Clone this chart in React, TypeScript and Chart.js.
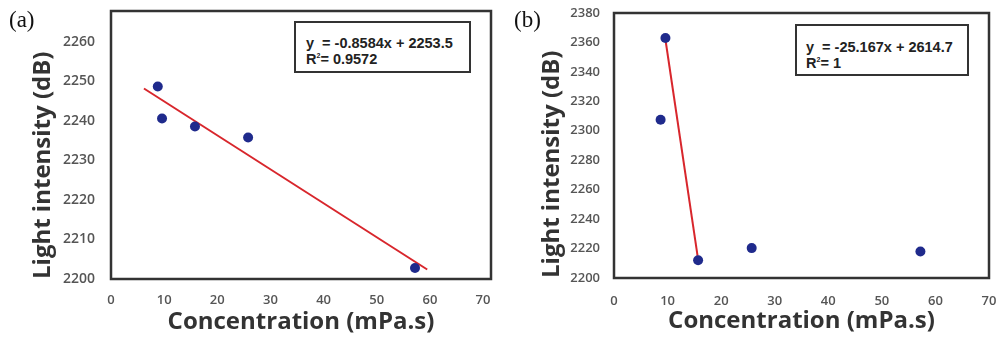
import React, { useEffect, useRef } from "react";
import { Chart, registerables } from "chart.js";
Chart.register(...registerables);

// ---- data ----
const xTicks = [0, 10, 20, 30, 40, 50, 60, 70];

const concA = [8.8, 9.6, 15.8, 25.8, 57.2];
const intensityA = [2248.7, 2240.6, 2238.6, 2235.8, 2202.8];
const trendXA = [6.2, 59.5];
const trendYA = [2248.2, 2202.4];
const yTicksA = [2200, 2210, 2220, 2230, 2240, 2250, 2260];

const concB = [9.6, 8.7, 15.7, 25.7, 57.2];
const intensityB = [2363, 2307.5, 2212, 2220.3, 2218];
const trendXB = [9.6, 15.6];
const trendYB = [2362, 2215];
const yTicksB = [2200, 2220, 2240, 2260, 2280, 2300, 2320, 2340, 2360, 2380];

const POINT = "#1f2a8c";
const RED = "#d8262c";
const TICK = "#555555";
const TITLE = "#333333";

const frame = {
  id: "frame",
  beforeDatasetsDraw(chart: any) {
    const { ctx, chartArea: a } = chart;
    ctx.save();
    ctx.strokeStyle = "#333";
    ctx.lineWidth = 2.5;
    ctx.strokeRect(a.left, a.top, a.right - a.left, a.bottom - a.top);
    ctx.restore();
  },
};

function Panel(props: any) {
  const c = props.cfg;
  const ref = useRef<HTMLCanvasElement>(null);
  useEffect(() => {
    const chart = new Chart(ref.current as HTMLCanvasElement, {
      type: "scatter",
      data: {
        datasets: [
          {
            data: c.px.map((x: number, i: number) => ({ x, y: c.py[i] })),
            backgroundColor: POINT,
            borderColor: POINT,
            borderWidth: 0,
            pointRadius: 5,
            pointHoverRadius: 5,
            showLine: false,
          },
          {
            data: c.tx.map((x: number, i: number) => ({ x, y: c.ty[i] })),
            showLine: true,
            borderColor: RED,
            borderWidth: 2,
            pointRadius: 0,
            fill: false,
          },
        ],
      } as any,
      options: {
        responsive: false,
        animation: false,
        events: [],
        layout: { padding: { left: 0, top: c.padTop, right: c.padRight, bottom: 0 } },
        plugins: { legend: { display: false }, tooltip: { enabled: false } },
        scales: {
          x: {
            type: "linear",
            min: 0,
            max: c.xMax,
            grid: { display: false, drawTicks: false },
            border: { display: false },
            afterBuildTicks: (s: any) => {
              s.ticks = xTicks.map((v) => ({ value: v }));
            },
            afterFit: (s: any) => {
              s.height = c.xAxisH;
              s.paddingLeft = 0;
              s.paddingRight = 0;
            },
            ticks: {
              autoSkip: false,
              maxRotation: 0,
              padding: c.xTickPad,
              color: TICK,
              callback: (v: any) => String(v),
              font: { family: "Open Sans", size: 13, weight: "600" },
            },
            title: {
              display: true,
              text: "Concentration (mPa.s)",
              color: TITLE,
              font: { family: "Open Sans", size: 24, weight: "bold" },
              padding: { top: 0, bottom: c.xTitlePad },
            },
          },
          y: {
            type: "linear",
            min: c.yMin,
            max: c.yMax,
            grid: { display: false, drawTicks: false },
            border: { display: false },
            afterBuildTicks: (s: any) => {
              s.ticks = c.yTicks.map((v: number) => ({ value: v }));
            },
            afterFit: (s: any) => {
              s.width = c.yAxisW;
              s.paddingTop = 0;
              s.paddingBottom = 0;
            },
            ticks: {
              autoSkip: false,
              padding: c.yTickPad,
              color: TICK,
              callback: (v: any) => String(v),
              font: { family: "Open Sans", size: c.yTickSize, weight: "600" },
            },
            title: {
              display: true,
              text: "Light intensity (dB)",
              align: "start",
              color: TITLE,
              font: { family: "Open Sans", size: 24, weight: "bold" },
              padding: { top: c.yTitlePad, bottom: 0 },
            },
          },
        },
      } as any,
      plugins: [frame],
    });
    return () => chart.destroy();
  }, []);
  return (
    <canvas
      ref={ref}
      width={c.w}
      height={337}
      style={{ position: "absolute", left: c.left, top: 0, width: c.w, height: 337 }}
    />
  );
}

const cfgA = {
  left: 0, w: 500, px: concA, py: intensityA, tx: trendXA, ty: trendYA,
  xMax: 71.5, yMin: 2200, yMax: 2267.8, yTicks: yTicksA,
  padTop: 11, padRight: 9, xAxisH: 58, yAxisW: 111,
  xTickPad: 13, yTickPad: 16, yTickSize: 14, yTitlePad: 28.6, xTitlePad: 0,
};
const cfgB = {
  left: 500, w: 498, px: concB, py: intensityB, tx: trendXB, ty: trendYB,
  xMax: 70, yMin: 2200, yMax: 2380, yTicks: yTicksB,
  padTop: 13, padRight: 9, xAxisH: 59, yAxisW: 114,
  xTickPad: 15, yTickPad: 14, yTickSize: 13, yTitlePad: 37.6, xTitlePad: 1,
};

const eqStyle: any = {
  position: "absolute",
  border: "2px solid #333",
  background: "#fff",
  boxSizing: "border-box",
  fontFamily: "'Liberation Sans', Arial, sans-serif",
  fontWeight: "bold",
  fontSize: 14.5,
  lineHeight: "16px",
  color: "#222",
  whiteSpace: "pre",
};

const labelStyle: any = {
  position: "absolute",
  fontFamily: "'Liberation Serif', 'Times New Roman', serif",
  fontSize: 23,
  lineHeight: "23px",
  color: "#111",
};

export default function App() {
  return (
    <div style={{ position: "absolute", left: 0, top: 0, width: 998, height: 337, background: "#fff", overflow: "hidden" }}>
      <Panel cfg={cfgA} />
      <Panel cfg={cfgB} />
      <div style={{ ...labelStyle, left: 9, top: 8 }}>(a)</div>
      <div style={{ ...labelStyle, left: 514, top: 8 }}>(b)</div>
      <div style={{ ...eqStyle, left: 294, top: 21, width: 177, height: 52, padding: "12px 0 0 10px" }}>
        <div>{"y  = -0.8584x + 2253.5"}</div>
        <div>
          R<sup style={{ fontSize: 7, verticalAlign: "6px", lineHeight: 0 }}>2</sup>{"= 0.9572"}
        </div>
      </div>
      <div style={{ ...eqStyle, left: 795, top: 24, width: 174, height: 52, padding: "13px 0 0 9px" }}>
        <div>{"y  = -25.167x + 2614.7"}</div>
        <div>
          R<sup style={{ fontSize: 7, verticalAlign: "6px", lineHeight: 0 }}>2</sup>{"= 1"}
        </div>
      </div>
    </div>
  );
}
